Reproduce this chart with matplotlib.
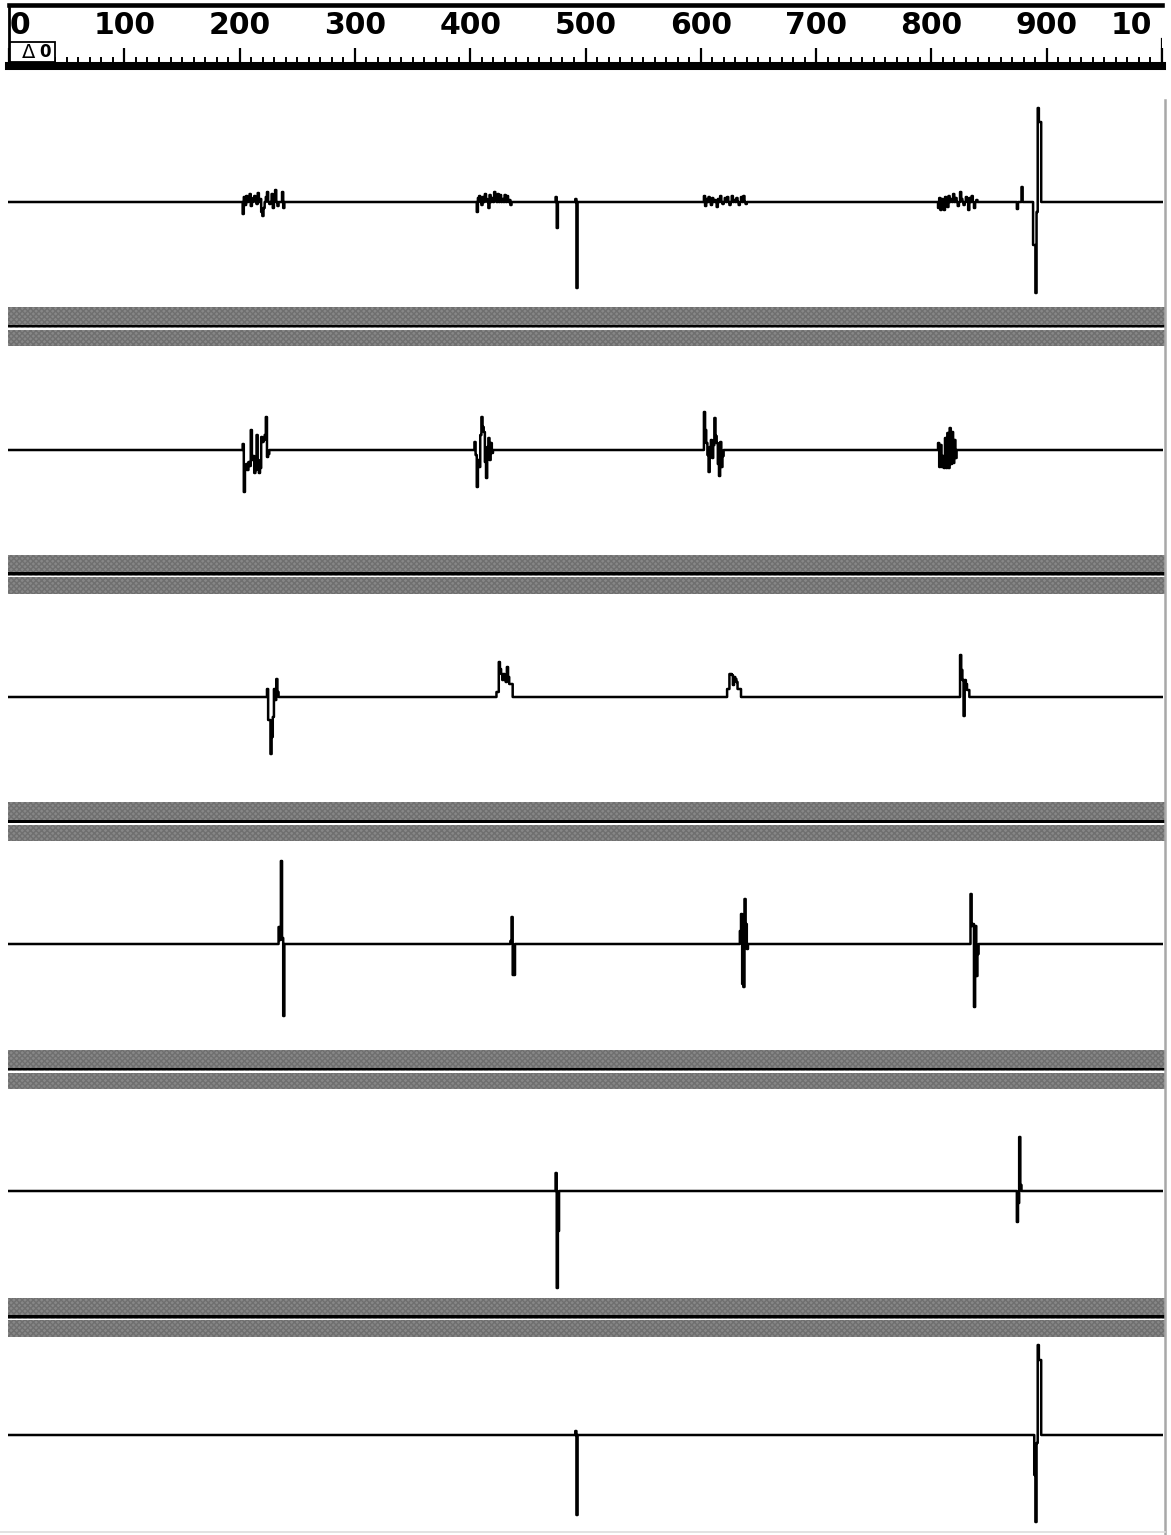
import numpy as np
import matplotlib.pyplot as plt
from matplotlib.patches import Rectangle
from matplotlib.ticker import MultipleLocator

W, H = 1171, 1535
PX_PER_UNIT = 1.159
X0_PX = 9.1
N_SAMPLES = 1000

ruler_ticks = [0, 100, 200, 300, 400, 500, 600, 700, 800, 900, 1000]
# last label is cut off by the window edge in the original: only "10" shows
ruler_texts = ['0', '100', '200', '300', '400', '500', '600', '700', '800', '900', '10']
delta_sym, delta_val = 'Δ', '0'

# (sample, amplitude) pairs, everything else sits on the baseline
trace1 = [(202, -12), (203, 5), (204, -3), (205, 6), (207, 2), (208, 8), (209, -4), (211, 4), (212, 6),
          (214, -2), (215, 9), (217, 3), (218, -10), (219, -14), (220, -6), (222, 5), (223, 10), (225, -2),
          (227, 8), (228, -6), (230, 12), (232, -4), (236, 10), (237, -6),
          (404, -10), (405, 4), (406, 6), (408, -3), (409, 5), (411, 8), (412, 3), (414, -6), (415, 7),
          (417, 4), (419, 10), (420, 6), (422, 8), (424, 7), (426, 3), (428, 7), (430, 6), (432, 2), (433, -3),
          (472, 5), (473, -26), (489, 3), (490, -86),
          (600, 6), (601, -4), (602, 3), (604, 5), (606, -3), (607, 4), (609, 2), (611, -5), (612, 3),
          (614, 6), (616, -2), (618, 4), (620, 5), (622, -3), (624, 6), (626, 2), (628, 4), (630, -3),
          (632, 5), (634, 6), (636, -2),
          (802, -6), (803, 4), (804, -8), (805, 3), (807, -8), (808, 5), (810, -5), (811, 6), (813, 3),
          (815, 8), (817, 4), (819, -4), (821, 10), (822, 3), (824, -3), (826, 5), (828, -8), (829, 4),
          (831, 6), (833, -6), (835, 2),
          (870, -7), (874, 15),
          (884, -43), (885, -43), (886, -91), (887, -10), (888, 94), (889, 80), (890, 80)]

trace2 = [(202, 6), (203, -42), (204, -20), (205, -14), (206, -20), (207, -12), (208, -16), (209, 20),
          (210, -10), (211, -6), (212, -23), (213, -20), (214, 15), (215, -10), (216, -23), (217, -18),
          (218, 13), (219, 8), (220, 10), (221, 15), (222, 33), (223, -7), (224, -4),
          (402, 8), (403, -5), (404, -37), (405, -10), (406, -17), (407, 15), (408, 33), (409, 23),
          (410, 18), (411, -12), (412, -28), (413, 3), (414, 12), (415, -10), (416, 7), (417, -3),
          (600, 38), (601, 20), (602, 7), (603, -5), (604, -22), (605, 3), (606, 10), (607, -8), (608, 5),
          (609, 32), (610, 14), (611, 7), (612, -14), (613, -26), (614, 8), (615, -17), (616, -6),
          (802, 7), (803, -17), (804, 5), (805, -17), (806, -6), (807, -18), (808, 12), (809, -18),
          (810, 17), (811, -18), (812, 22), (813, -14), (814, 18), (815, -13), (816, 10), (817, -8)]

trace3 = [(223, 8), (224, -23), (225, -23), (226, -57), (227, -40), (228, -20), (229, 8), (230, -3),
          (231, 18), (232, 5),
          (421, 5), (422, 5), (423, 35), (424, 28), (425, 23), (426, 17), (427, 23), (428, 17), (429, 15),
          (430, 30), (431, 20), (432, 13), (433, 13), (434, 13),
          (620, 8), (621, 8), (622, 23), (623, 23), (624, 22), (625, 12), (626, 20), (627, 18), (628, 15),
          (629, 8), (630, 8), (631, 8),
          (821, 42), (822, 27), (823, 17), (824, -19), (825, 17), (826, 13), (827, 7), (828, 7)]

trace4 = [(233, 17), (234, 4), (235, 83), (236, 6), (237, -72),
          (433, 3), (434, 27), (435, -31), (436, -31),
          (631, 13), (632, 30), (633, -40), (634, -43), (635, 45), (636, 20), (637, -5),
          (830, 50), (831, 18), (832, 20), (833, -63), (834, 18), (835, -32), (836, -10)]

trace5 = [(472, 18), (473, -97), (474, -40),
          (870, -31), (871, -12), (872, 54), (873, 6)]

trace6 = [(489, 4), (490, -80),
          (885, -40), (886, -87), (887, -8), (888, 90), (889, 75), (890, 75)]

traces = [trace1, trace2, trace3, trace4, trace5, trace6]


def fig_rect(left, top, right, bottom):
    return [left / W, 1 - bottom / H, (right - left) / W, (bottom - top) / H]


def px_to_unit(px):
    return (px - X0_PX) / PX_PER_UNIT


def build_signal(pairs):
    t, v = zip(*pairs)
    y = np.zeros(N_SAMPLES)
    y[np.array(t)] = v
    return y


fig = plt.figure(figsize=(W / 100, H / 100), dpi=100)
fig.patch.set_facecolor('white')

# background layer: separator bands and window border
ax_bg = fig.add_axes([0, 0, 1, 1])
ax_bg.set_xlim(0, W)
ax_bg.set_ylim(H, 0)
ax_bg.axis('off')
for k in range(5):
    top = 307 + 247.7 * k
    ax_bg.add_patch(Rectangle((8, top), 1157, 39, fc='#878787', ec='#6f6f6f', lw=0, hatch='xxxxxx'))
    ax_bg.add_patch(Rectangle((8, top + 17.5), 1157, 2.8, fc='black', ec='none'))
    ax_bg.add_patch(Rectangle((8, top + 20.8), 1157, 1.8, fc='white', ec='none'))
ax_bg.plot([1164.5, 1164.5], [100, H], color='#a8a8a8', lw=1.8)
ax_bg.plot([0, 1165], [1532, 1532], color='#dddddd', lw=1.2)

# ruler
ax_r = fig.add_axes(fig_rect(9, 5.5, 1162, 66))
ax_r.set_xlim(px_to_unit(9), px_to_unit(1162))
ax_r.set_ylim(60.5, 0)
ax_r.spines['right'].set_visible(False)
ax_r.spines['top'].set_linewidth(3.3)
ax_r.spines['bottom'].set_linewidth(5.8)
ax_r.spines['left'].set_linewidth(2)
ax_r.set_xticks(ruler_ticks)
ax_r.xaxis.set_minor_locator(MultipleLocator(10))
ax_r.tick_params(axis='x', which='major', direction='in', length=13, width=1.6,
                 labelbottom=False, top=False)
ax_r.tick_params(axis='x', which='minor', direction='in', length=6.5, width=1.4, top=False)
ax_r.set_yticks([])
ax_r.axvline(ax_r.get_xlim()[1], ymin=0, ymax=0.45, color='black', lw=1.6)
last = len(ruler_ticks) - 1
for i, (pos, lab) in enumerate(zip(ruler_ticks, ruler_texts)):
    if i == 0:
        x, ha = px_to_unit(10), 'left'
    elif i == last:
        x, ha = px_to_unit(1116), 'left'
    else:
        x, ha = pos, 'center'
    ax_r.text(x, 20.5, lab, ha=ha, va='center', fontsize=21.5, fontweight='bold', family='DejaVu Sans')
ax_r.add_patch(Rectangle((px_to_unit(10), 36.5), (55 - 10) / PX_PER_UNIT, 20,
                         fc='white', ec='black', lw=1.3, clip_on=False, zorder=5))
ax_r.text(px_to_unit(29), 47.5, delta_sym, ha='center', va='center', fontsize=14,
          family='DejaVu Sans', zorder=6)
ax_r.text(px_to_unit(45), 46.5, delta_val, ha='center', va='center', fontsize=12,
          fontweight='bold', family='DejaVu Sans', zorder=6)

# traces
panel_centers = [202, 450, 697, 944, 1191, 1435]
samples = np.arange(N_SAMPLES)
for pairs, c in zip(traces, panel_centers):
    ax = fig.add_axes(fig_rect(8, c - 104.5, 1163, c + 104.5))
    ax.set_xlim(px_to_unit(8), px_to_unit(1163))
    ax.set_ylim(-104.5, 104.5)
    ax.axis('off')
    ax.plot(samples, build_signal(pairs), drawstyle='steps-mid', color='black', lw=1.8)

fig.savefig('out.png', dpi=100, facecolor='white')
